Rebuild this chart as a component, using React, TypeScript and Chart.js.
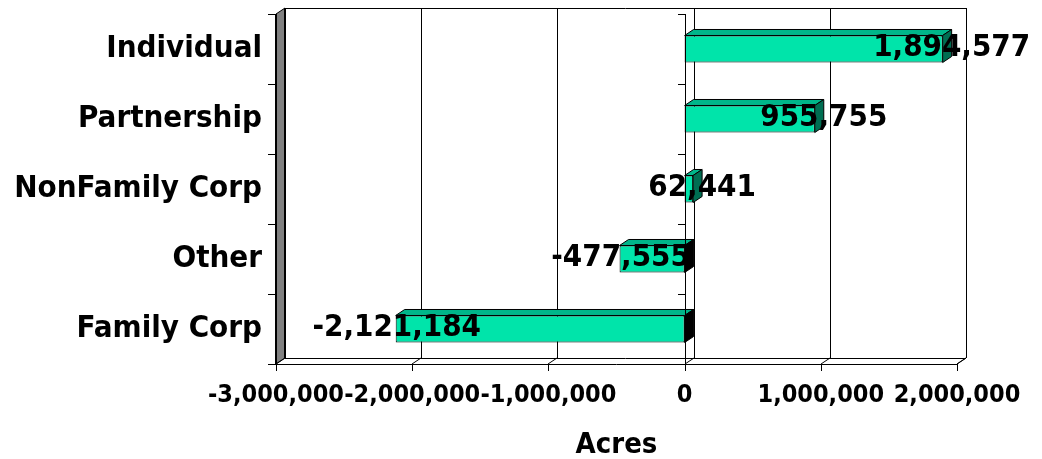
import React, { useEffect, useRef } from "react";
import { Chart, registerables } from "chart.js";

Chart.register(...registerables);

const categories = ["Individual", "Partnership", "NonFamily Corp", "Other", "Family Corp"];
const acres = [1894577, 955755, 62441, -477555, -2121184];
const axisMin = -3000000;
const axisMax = 2000000;
const axisStep = 1000000;
const axisTitle = "Acres";

const FONT = "'DejaVu Sans Condensed', 'DejaVu Sans', sans-serif";
const FRONT = "#00E4AA";
const TOP = "#00B68A";
const SIDE = "#006E52";
const DX = 9;
const DY = -6;

const fmt = (v: number) => Math.round(v).toLocaleString("en-US");

const threeD = {
  id: "threeD",
  beforeDatasetsDraw(chart: any) {
    const { ctx, chartArea: ca, scales } = chart;
    const x = scales.x;
    const L = ca.left, R = ca.right, T = ca.top, B = ca.bottom;
    ctx.save();
    // left wall
    ctx.fillStyle = "#808080";
    ctx.strokeStyle = "#000";
    ctx.lineWidth = 1;
    ctx.beginPath();
    ctx.moveTo(L, T);
    ctx.lineTo(L + DX, T + DY);
    ctx.lineTo(L + DX, B + DY);
    ctx.lineTo(L, B);
    ctx.closePath();
    ctx.fill();
    ctx.stroke();
    // back wall top / right / floor lines
    ctx.beginPath();
    ctx.moveTo(L + DX, T + DY + 0.5);
    ctx.lineTo(R + DX, T + DY + 0.5);
    ctx.moveTo(R + DX + 0.5, T + DY);
    ctx.lineTo(R + DX + 0.5, B + DY);
    ctx.moveTo(L + DX, B + DY + 0.5);
    ctx.lineTo(R + DX, B + DY + 0.5);
    ctx.moveTo(R, B);
    ctx.lineTo(R + DX, B + DY);
    ctx.stroke();
    // back grid lines and floor ticks
    for (let v = axisMin; v <= axisMax; v += axisStep) {
      const px = Math.round(x.getPixelForValue(v));
      ctx.beginPath();
      ctx.moveTo(px + DX + 0.5, T + DY);
      ctx.lineTo(px + DX + 0.5, B + DY);
      ctx.moveTo(px, B);
      ctx.lineTo(px + DX, B + DY);
      ctx.moveTo(px + 0.5, B);
      ctx.lineTo(px + 0.5, B + 7);
      ctx.stroke();
    }
    // front floor edge
    ctx.beginPath();
    ctx.moveTo(L, B + 0.5);
    ctx.lineTo(R, B + 0.5);
    ctx.stroke();
    // left wall thick edges
    ctx.lineWidth = 2;
    ctx.beginPath();
    ctx.moveTo(L + DX, T + DY);
    ctx.lineTo(L + DX, B + DY);
    ctx.moveTo(L, T);
    ctx.lineTo(L, B);
    ctx.stroke();
    ctx.lineWidth = 1;
    // bar 3D faces
    const meta = chart.getDatasetMeta(0);
    meta.data.forEach((bar: any, i: number) => {
      const p = bar.getProps(["x", "y", "base", "height"], true);
      const x0 = Math.min(p.x, p.base);
      const x1 = Math.max(p.x, p.base);
      const yt = p.y - p.height / 2;
      const yb = p.y + p.height / 2;
      ctx.strokeStyle = "#000";
      ctx.fillStyle = TOP;
      ctx.beginPath();
      ctx.moveTo(x0, yt);
      ctx.lineTo(x0 + DX, yt + DY);
      ctx.lineTo(x1 + DX, yt + DY);
      ctx.lineTo(x1, yt);
      ctx.closePath();
      ctx.fill();
      ctx.stroke();
      ctx.fillStyle = acres[i] >= 0 ? SIDE : "#000";
      ctx.beginPath();
      ctx.moveTo(x1, yt);
      ctx.lineTo(x1 + DX, yt + DY);
      ctx.lineTo(x1 + DX, yb + DY);
      ctx.lineTo(x1, yb);
      ctx.closePath();
      ctx.fill();
      ctx.stroke();
    });
    ctx.restore();
  },
  afterDatasetsDraw(chart: any) {
    const { ctx, chartArea: ca, scales } = chart;
    const x = scales.x;
    const y = scales.y;
    const zero = Math.round(x.getPixelForValue(0));
    ctx.save();
    ctx.strokeStyle = "#000";
    ctx.lineWidth = 1;
    ctx.beginPath();
    ctx.moveTo(zero + 0.5, ca.top);
    ctx.lineTo(zero + 0.5, ca.bottom);
    const step = y.getPixelForValue(1) - y.getPixelForValue(0);
    for (let i = 0; i <= categories.length; i++) {
      const py = Math.round(y.getPixelForValue(i) - step / 2);
      ctx.moveTo(zero - 7, py + 0.5);
      ctx.lineTo(zero, py + 0.5);
    }
    ctx.stroke();
    // data labels
    const meta = chart.getDatasetMeta(0);
    ctx.fillStyle = "#000";
    ctx.font = `bold 31px ${FONT}`;
    ctx.textAlign = "center";
    ctx.textBaseline = "middle";
    meta.data.forEach((bar: any, i: number) => {
      const p = bar.getProps(["x", "y"], true);
      const off = acres[i] >= 0 ? 9 : 1;
      ctx.fillText(fmt(acres[i]), p.x + off, p.y - 1);
    });
    ctx.restore();
  },
};

export default function App() {
  const ref = useRef<HTMLCanvasElement>(null);
  useEffect(() => {
    const chart = new Chart(ref.current as HTMLCanvasElement, {
      type: "bar",
      data: {
        labels: categories,
        datasets: [
          {
            data: acres,
            backgroundColor: FRONT,
            borderColor: "#000",
            borderWidth: 1,
            borderSkipped: false,
            barPercentage: 0.386,
            categoryPercentage: 1,
          },
        ],
      },
      plugins: [threeD],
      options: {
        indexAxis: "y",
        animation: false,
        responsive: true,
        maintainAspectRatio: false,
        layout: { padding: { top: 14, right: 85, left: 0, bottom: 0 } },
        plugins: { legend: { display: false }, tooltip: { enabled: false } },
        scales: {
          x: {
            type: "linear",
            min: axisMin,
            max: axisMax,
            afterFit: (s: any) => {
              s.height = 95;
              s.paddingLeft = 0;
              s.paddingRight = 0;
            },
            afterBuildTicks: (s: any) => {
              const t = [];
              for (let v = axisMin; v <= axisMax; v += axisStep) t.push({ value: v });
              s.ticks = t;
            },
            grid: { display: false, drawTicks: false },
            border: { display: false },
            ticks: {
              padding: 16,
              maxRotation: 0,
              autoSkip: false,
              color: "#000",
              font: { family: FONT, size: 25, weight: "bold" },
              callback: (v: any) => fmt(Number(v)),
            },
            title: {
              display: true,
              text: axisTitle,
              color: "#000",
              font: { family: FONT, size: 29, weight: "bold", lineHeight: 0.9 },
              padding: { top: 15, bottom: 0 },
            },
          },
          y: {
            afterFit: (s: any) => {
              s.width = 276;
              s.paddingTop = 0;
              s.paddingBottom = 0;
            },
            grid: {
              drawOnChartArea: false,
              drawTicks: true,
              tickLength: 8,
              color: "#000",
              offset: true,
            },
            border: { display: false },
            ticks: {
              padding: 6,
              color: "#000",
              font: { family: FONT, size: 31, weight: "bold" },
            },
          },
        },
      },
    } as any);
    return () => chart.destroy();
  }, []);
  return (
    <div style={{ position: "fixed", left: 0, top: 0, width: 1042, height: 459, background: "#fff" }}>
      <canvas ref={ref} />
    </div>
  );
}
